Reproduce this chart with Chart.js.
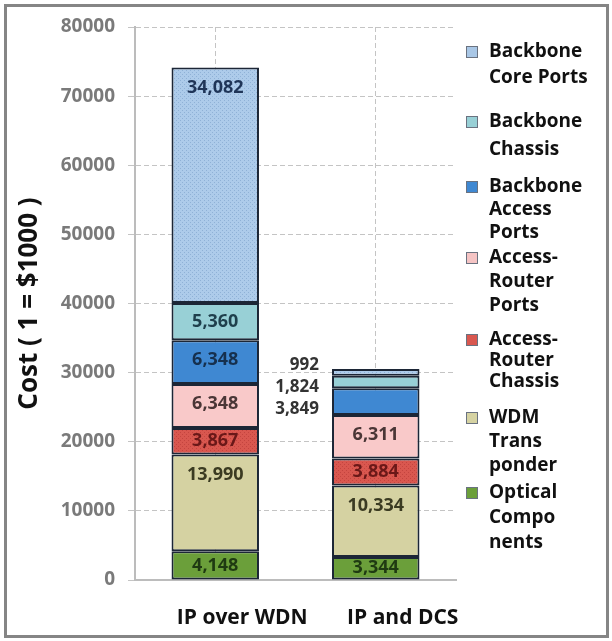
<!DOCTYPE html>
<html>
<head>
<meta charset="utf-8">
<script src="https://cdn.jsdelivr.net/npm/chart.js@4.4.0/dist/chart.umd.min.js"></script>
<style>
  body { margin: 0; background: #fff; }
  #wrap { position: relative; width: 612px; height: 641px; }
</style>
</head>
<body>
<div id="wrap"><canvas id="costChart"></canvas></div>
<script>
// Chart data (bottom of stack first)
const categories = ['IP over WDN', 'IP and DCS'];
const opticalComponents = [4148, 3344];
const wdmTransponder = [13990, 10334];
const accessRouterChassis = [3867, 3884];
const accessRouterPorts = [6348, 6311];
const backboneAccessPorts = [6348, 3849];
const backboneChassis = [5360, 1824];
const backboneCorePorts = [34082, 992];
const yTicks = [0, 10000, 20000, 30000, 40000, 50000, 60000, 70000, 80000];

// Legend text, top to bottom
const legendText = [
    ['Backbone', 'Core Ports'],
    ['Backbone', 'Chassis'],
    ['Backbone', 'Access', 'Ports'],
    ['Access-', 'Router', 'Ports'],
    ['Access-', 'Router', 'Chassis'],
    ['WDM', 'Trans', 'ponder'],
    ['Optical', 'Compo', 'nents']
];

const canvas = document.getElementById('costChart');
const ctx = canvas.getContext('2d');

// small dotted texture like the original fills
function dotPattern(base, dot) {
    const tile = document.createElement('canvas');
    tile.width = 4;
    tile.height = 4;
    const g = tile.getContext('2d');
    g.fillStyle = base;
    g.fillRect(0, 0, 4, 4);
    g.fillStyle = dot;
    g.fillRect(0, 0, 1, 1);
    g.fillRect(2, 2, 1, 1);
    return ctx.createPattern(tile, 'repeat');
}

const fills = {
    optical: '#6b9f3a',
    wdm: '#d5d2a2',
    chassis: dotPattern('#d9574f', '#c4443f'),
    ports: '#f9c9c9',
    bbAccess: '#3f88d2',
    bbChassis: '#98d0d6',
    bbCore: dotPattern('#adcbea', '#8fb1d6')
};
const swatch = ['#a9c7e6', '#98d0d6', '#3f88d2', '#f5c4c4', '#d9574f', '#d5d2a2', '#6b9f3a'];
const labelColors = ['#1f3a12', '#3b3b22', '#6a1818', '#4a3636', '#16304e', '#1f3f4c', '#1f3558'];

const font = 'Open Sans';

// outer frame + white background
const frame = {
    id: 'frame',
    beforeDraw(chart) {
        const c = chart.ctx;
        c.save();
        c.fillStyle = '#fff';
        c.fillRect(0, 0, chart.width, chart.height);
        c.restore();
    },
    afterDraw(chart) {
        const c = chart.ctx;
        c.save();
        c.strokeStyle = '#858585';
        c.lineWidth = 3;
        c.strokeRect(5.5, 5.5, 602, 631);
        c.restore();
    }
};

// value labels inside the segments (small ones go to the left of the bar)
const valueLabels = {
    id: 'valueLabels',
    afterDatasetsDraw(chart) {
        const c = chart.ctx;
        c.save();
        c.textBaseline = 'middle';
        categories.forEach((cat, j) => {
            let outsideY = null;
            let aboveOutside = true;
            for (let i = chart.data.datasets.length - 1; i >= 0; i--) {
                const bar = chart.getDatasetMeta(i).data[j];
                const v = chart.data.datasets[i].data[j];
                const h = bar.base - bar.y;
                const text = v.toLocaleString('en-US');
                if (h < 15 || (h < 30 && aboveOutside)) {
                    if (outsideY === null) outsideY = bar.y - 4;
                    c.font = 'bold 17px "' + font + '"';
                    c.fillStyle = '#333';
                    c.textAlign = 'right';
                    c.fillText(text, bar.x - bar.width / 2 - 13, outsideY);
                    outsideY += 22;
                    aboveOutside = true;
                } else {
                    c.font = 'bold 18px "' + font + '"';
                    c.fillStyle = labelColors[i];
                    c.textAlign = 'center';
                    c.fillText(text, bar.x, Math.min((bar.y + bar.base) / 2, bar.y + 20));
                    aboveOutside = false;
                }
            }
        });
        c.restore();
    }
};

// legend on the right, wrapped text
const sideLegend = {
    id: 'sideLegend',
    afterDraw(chart) {
        const c = chart.ctx;
        const tops = [52, 122, 187, 258, 340, 418, 493];
        const gaps = [26, 28, 23, 24, 21, 24, 25];
        c.save();
        c.font = 'bold 19px "' + font + '"';
        c.textBaseline = 'middle';
        c.textAlign = 'left';
        legendText.forEach((lines, k) => {
            const y0 = tops[k];
            c.fillStyle = swatch[k];
            c.fillRect(466, y0 - 6, 12, 12);
            c.strokeStyle = '#6a7280';
            c.lineWidth = 1;
            c.strokeRect(466.5, y0 - 5.5, 11, 11);
            c.fillStyle = '#111';
            lines.forEach((t, n) => {
                c.fillText(t, 489, y0 + n * gaps[k]);
            });
        });
        c.restore();
    }
};

function dataset(label, data, fill) {
    return {
        label: label,
        data: data,
        backgroundColor: fill,
        borderColor: '#1c2636',
        borderWidth: 2,
        borderSkipped: false
    };
}

new Chart(ctx, {
    type: 'bar',
    data: {
        labels: categories,
        datasets: [
            dataset('Optical Components', opticalComponents, fills.optical),
            dataset('WDM Transponder', wdmTransponder, fills.wdm),
            dataset('Access-Router Chassis', accessRouterChassis, fills.chassis),
            dataset('Access-Router Ports', accessRouterPorts, fills.ports),
            dataset('Backbone Access Ports', backboneAccessPorts, fills.bbAccess),
            dataset('Backbone Chassis', backboneChassis, fills.bbChassis),
            dataset('Backbone Core Ports', backboneCorePorts, fills.bbCore)
        ]
    },
    options: {
        responsive: true,
        maintainAspectRatio: false,
        animation: false,
        layout: { padding: { left: 12, top: 27, right: 156, bottom: 8 } },
        datasets: { bar: { categoryPercentage: 1, barPercentage: 0.545 } },
        plugins: {
            legend: { display: false },
            tooltip: { enabled: false }
        },
        scales: {
            x: {
                stacked: true,
                offset: true,
                grid: { offset: false, color: '#c4c4c4', drawTicks: false },
                border: { display: true, color: '#bcbcbc', width: 2, dash: [5, 3] },
                ticks: {
                    padding: 25,
                    labelOffset: 27,
                    maxRotation: 0,
                    color: '#111',
                    font: { family: font, weight: 'bold', size: 21 }
                },
                afterFit(scale) { scale.height = 641 - 8 - 580; }
            },
            y: {
                stacked: true,
                min: 0,
                max: 80000,
                afterBuildTicks(scale) { scale.ticks = yTicks.map(v => ({ value: v })); },
                ticks: {
                    padding: 13,
                    color: '#7a7a7a',
                    font: { family: font, weight: 'bold', size: 19 },
                    callback: v => String(v)
                },
                grid: { color: '#c4c4c4', tickLength: 7 },
                border: { display: true, color: '#bcbcbc', width: 2, dash: [5, 3] },
                title: {
                    display: true,
                    text: 'Cost ( 1 = $1000 )',
                    color: '#111',
                    font: { family: font, weight: 'bold', size: 26 },
                    padding: { top: 2, bottom: 0 }
                },
                afterFit(scale) { scale.width = 123; }
            }
        }
    },
    plugins: [frame, valueLabels, sideLegend]
});
</script>
</body>
</html>
